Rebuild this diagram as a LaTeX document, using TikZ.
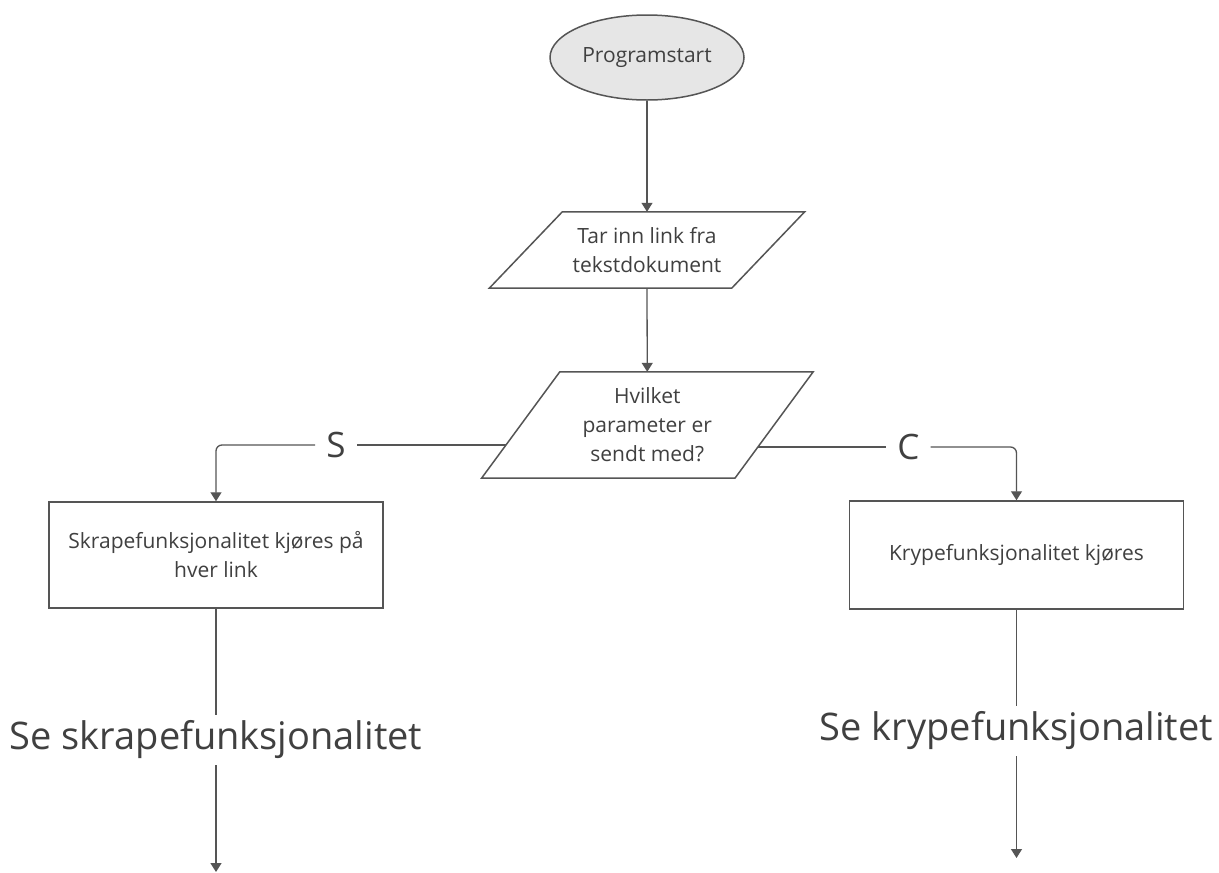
\documentclass[tikz,border=0pt]{standalone}
\usepackage{fontspec}
\setmainfont{Open Sans}
\usetikzlibrary{shapes.geometric,arrows.meta}
\definecolor{inkline}{HTML}{555555}
\definecolor{inktext}{HTML}{404040}
\definecolor{startfill}{HTML}{E6E6E6}

\begin{document}
\begin{tikzpicture}[x=1pt,y=-1pt,
  small/.style={font=\fontsize{21}{29}\selectfont, align=center, text=inktext},
  big/.style={font=\fontsize{38}{46}\selectfont, text=inktext, inner sep=0pt, minimum height=50pt},
  conn/.style={draw=inkline, line width=1.3pt},
  arr/.style={conn, -{Triangle[width=11pt,length=9pt]}},
  procbox/.style={small, draw=inkline, line width=1.5pt, minimum width=334pt, inner sep=0pt},
  iobox/.style={small, inner sep=0pt},
  ioshape/.style={draw=inkline, line width=1.5pt, line join=miter},
  branch/.style={font=\fontsize{35}{40}\selectfont, inner xsep=11pt, inner ysep=0pt, text=inktext},
]
\fill[white] (0,0) rectangle (1219,873);

% start terminal
\node[ellipse, draw=inkline, fill=startfill, line width=1.5pt,
      minimum width=194pt, minimum height=85pt, inner sep=0pt, small]
      (start) at (647,57.5) {Programstart};

% input: read links
\node[iobox, minimum width=242pt, minimum height=76pt] (input) at (647,250)
      {Tar inn link fra\\tekstdokument};
\draw[ioshape] ([xshift=36.5pt]input.north west) -- ([xshift=36.5pt]input.north east)
  -- ([xshift=-36.5pt]input.south east) -- ([xshift=-36.5pt]input.south west) -- cycle;

% decision on parameter
\node[iobox, minimum width=253pt, minimum height=106pt] (decision) at (647.25,425)
      {Hvilket\\parameter er\\sendt med?};
\draw[ioshape] ([xshift=39.25pt]decision.north west) -- ([xshift=39.25pt]decision.north east)
  -- ([xshift=-39pt]decision.south east) -- ([xshift=-39pt]decision.south west) -- cycle;
\coordinate (sOut) at ([xshift=-14.8pt,yshift=-20pt]decision.west);
\coordinate (cOut) at ([xshift=-16.2pt,yshift=-22pt]decision.east);

% process boxes
\node[procbox, minimum height=106pt] (scrape) at (216,555)
      {Skrapefunksjonalitet kjøres på\\hver link};
\node[procbox, minimum height=108pt] (crawl) at (1016.5,555)
      {Krypefunksjonalitet kjøres};

% branch labels
\node[branch] (sLab) at (336,445) {S};
\node[branch] (cLab) at (908.5,447) {C};

% continuation texts
\node[big] (seeScrape) at (216,740) {Se skrapefunksjonalitet};
\node[big] (seeCrawl) at (1016.5,731) {Se krypefunksjonalitet};
\coordinate (scrapeEnd) at (216,872);
\coordinate (crawlEnd) at (1016.5,858);

% connectors
\draw[arr] (start.south) -- (input.north);
\draw[arr] (input.south) -- (decision.north);
\draw[conn] (sOut) -- (sLab.east);
\draw[arr, rounded corners=6pt] (sLab.west) -| (scrape.north);
\draw[conn] (cOut) -- (cLab.west);
\draw[arr, rounded corners=6pt] (cLab.east) -| (crawl.north);
\draw[conn] (scrape.south) -- (seeScrape.north);
\draw[arr] (seeScrape.south) -- (scrapeEnd);
\draw[conn] (crawl.south) -- (seeCrawl.north);
\draw[arr] (seeCrawl.south) -- (crawlEnd);
\end{tikzpicture}
\end{document}
